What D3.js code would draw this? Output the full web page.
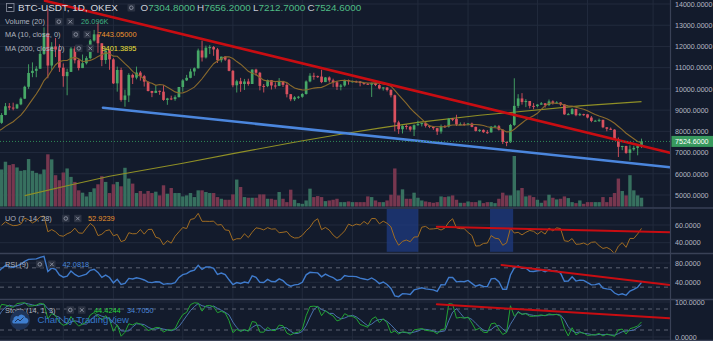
<!DOCTYPE html>
<html><head><meta charset="utf-8">
<script src="https://cdn.jsdelivr.net/npm/d3@7"></script>
<style>
html,body{margin:0;padding:0;background:#131b2c;overflow:hidden}
svg{display:block}
text{font-family:"Liberation Sans",Arial,sans-serif}
</style></head><body>
<svg id="c" width="713" height="341"></svg>
<script>
// ---------- DATA (daily candles, first = 2019-06-15) ----------
const startDate = "2019-06-15";
const open0 = 8400;
const close = [8770,9180,9120,9080,9270,9540,10100,10750,10850,10950,11650,12600,11100,12000,11850,11000,10600,10800,11900,11350,
10980,11210,11450,12280,12570,12150,11360,11800,11390,10260,10890,9480,9690,10660,10530,10770,10600,10340,9900,9810,
9910,9870,9480,9550,9520,9610,10090,10400,10520,10820,10970,11810,11480,11940,11970,11860,11350,11520,11380,10850,
10170,10360,10230,10350,10230,10910,10760,10140,10130,10410,10160,10140,10370,10190,9750,9510,9600,9630,9760,10350,
10620,10600,10580,10320,10540,10400,10310,10100,10160,10410,10360,10360,10350,10280,10240,10200,10270,10180,10020,10070,
9950,9700,8420,8100,8250,8220,8080,8290,8340,8390,8260,8210,8150,7990,8240,8230,8590,8580,8320,8340,
8320,8370,8210,8020,8070,7960,7950,8220,8240,8080,7500,7490,8300,9200,9550,9380,9430,9200,9190,9260,
9320,9240,9410,9340,9360,9270,8800,8810,9050,8760,8810,8800,8650,8490,8500,8540,8190,8120,8080,7630,
7270,7310,6980,7150,7220,7305,7524.6];
const high = [8860,9335,9330,9350,9300,9600,10150,11160,11250,11070,11800,12900,13800,12200,12400,12100,11200,10950,11970,12000,
11400,11620,11540,12350,12780,13130,12150,11900,11840,11450,11050,11000,9960,10740,10720,11050,10840,10660,10350,9910,
10150,9920,10170,9580,9680,9700,10090,10460,10660,10950,11010,11900,12270,12040,12060,12020,11930,11520,11540,11420,
10890,10430,10520,10470,10480,10920,10950,10800,10230,10440,10420,10310,10510,10380,10280,9760,9660,9670,9800,10400,
10740,10760,10630,10900,10560,10590,10480,10380,10230,10440,10440,10390,10390,10370,10290,10280,10300,10290,10220,10080,
10080,9980,9730,8500,8280,8320,8250,8330,8500,8400,8420,8270,8220,8160,8320,8300,8630,8630,8780,8420,
8420,8390,8410,8220,8100,8090,8060,8250,8300,8300,8090,7520,8350,10500,9750,9800,9520,9430,9330,9280,
9380,9330,9500,9460,9420,9370,9280,8870,9100,9070,8870,8830,8810,8720,8540,8600,8550,8200,8180,8100,
7710,7320,7320,7340,7320,7400,7656.2];
const low = [8350,8760,9000,8990,9050,9230,9520,10000,10550,10550,10950,11600,10500,10900,11500,10800,10100,9700,10800,11200,
10870,10980,11150,11390,12230,11700,11070,11180,10900,10230,9870,9400,9160,9380,10230,10450,10390,10110,9880,9610,
9800,9720,9440,9250,9470,9440,9600,9870,10370,10500,10620,10960,11290,11430,11640,11560,11220,11250,11320,10830,
10080,9830,9860,9950,10150,10230,10620,9930,9830,10080,9970,10010,10130,10090,9600,9420,9430,9530,9580,9730,
10310,10430,10520,10270,10320,10300,10080,9950,9930,10100,10200,10300,10290,10120,10190,10190,9620,10130,9980,9920,
9880,9600,8000,7880,7900,8090,7990,7780,8260,8230,8180,8150,8070,7830,7890,8160,8180,8480,8250,8300,
8260,8280,8190,7990,7970,7930,7880,7940,8190,8040,7400,7300,7450,8250,9100,9260,9140,9080,9040,9130,
9250,9120,9190,9260,9300,9200,8780,8790,8800,8710,8720,8730,8610,8430,8470,8440,8150,8000,8060,7600,
6790,7110,6940,6620,7080,6870,7212.7];
const volumeK = [110,133,123,126,116,106,108,141,106,100,96,110,155,140,93,78,101,113,88,73,
48,41,30,43,54,66,90,73,40,66,73,60,115,83,68,40,46,38,46,40,
44,33,63,38,55,40,40,30,33,40,28,48,48,43,40,40,28,23,20,20,
36,80,58,28,26,26,26,36,36,23,23,20,43,23,13,50,20,10,8,18,
53,28,31,28,16,18,20,23,13,13,15,13,13,13,13,30,28,18,13,13,
18,35,113,33,51,23,23,41,26,18,15,13,11,13,30,28,30,33,20,11,
11,15,13,13,18,10,13,13,10,23,41,33,33,150,48,55,30,33,28,20,
11,18,35,26,21,23,30,25,13,10,18,8,13,13,13,13,28,13,28,40,
83,46,33,93,48,33,26.096];
// prior days (2019-05-18 .. 2019-06-14), off-screen, feed the indicators
const warmClose = [7262,8197,7979,7963,7680,7881,7987,8052,8673,8805,8720,8659,8319,8574,8565,8742,8208,7707,7824,7822,8043,7954,7688,8000,7927,8145,8231,8400];
const warmHigh  = [7450,8260,8100,8030,8000,7940,8140,8140,8800,8950,8820,8730,9070,8590,8625,8780,8740,8210,7900,7880,8100,8060,7950,8060,8030,8200,8300,8700];
const warmLow   = [7200,7250,7600,7830,7650,7530,7830,7960,8000,8660,8640,8500,8230,8200,8480,8550,8170,7520,7630,7630,7790,7870,7600,7660,7840,7860,8060,8200];
// MA(200): [day offset, value]
const ma200Day = [6,17,28,47,60,77,88,98,108,124,132,150,166];
const ma200Val = [4970,5440,5880,6500,6950,7520,7860,8150,8420,8760,8890,9200,9401.39];
// drawn trend lines: [day offset, value]
const redPrice  = [[11.26,14151],[173.39,6993]];
const bluePrice = [[26.3,9113],[173.39,6304]];
const redUO     = [[112.9,58.1],[173.39,51.8]];
const redRSI    = [[129.7,75.9],[173.39,34.4]];
const redStoch  = [[112.9,93.4],[173.39,53.4]];
const uoShade   = [[99.9,108.1],[126.7,132.7]];
// ticks / grid
const priceTicks = [5000,6000,7000,8000,9000,10000,11000,12000,13000,14000];
const uoTicks = [40,60], rsiTicks = [40,80], stochTicks = [0,100];
const gridDays = [16,29,47,60,78,91,108,121,139,152,169];
const lastPrice = 7524.6;
const legendTitle = "BTC-USDT, 1D, OKEX";
const ohlcLabels = [["O","7304.8000"],["H","7656.2000"],["L","7212.7000"],["C","7524.6000"]];
const legendRows = [["Volume (20)","26.096K","#3fae80"],["MA (10, close, 0)","7443.05000","#f0962e"],["MA (200, close, 0)","9401.3895","#eee23a"]];

// ---------- LAYOUT ----------
const svg = d3.select("#c");
const W = 713, H = 341, plotR = 670.5;
const BG = "#131b2c", GRID = "#222b3d", SEP = "#394156";
const UP = "#46a867", DN = "#d9515f", VUP = "#37705f", VDN = "#77374f";
svg.append("rect").attr("width",W).attr("height",H).attr("fill",BG);

const x = d3.scaleLinear().domain([0,173.39]).range([1.6,670]);
const yP = d3.scaleLinear().domain([5000,14000]).range([195,4]);
const yV = d3.scaleLinear().domain([0,150]).range([206.5,156]);
const yU = d3.scaleLinear().domain([40,60]).range([242.7,225]);
const yR = d3.scaleLinear().domain([40,80]).range([282.3,263]);
const yS = d3.scaleLinear().domain([0,100]).range([337,302]);

const panels = [
  {id:"pm", y0:0, y1:207.5},
  {id:"pu", y0:208.8, y1:252.8},
  {id:"pr", y0:254.2, y1:298.8},
  {id:"ps", y0:300.2, y1:341}
];
const defs = svg.append("defs");
panels.forEach(p=>{
  defs.append("clipPath").attr("id",p.id).append("rect")
    .attr("x",0).attr("y",p.y0).attr("width",plotR).attr("height",p.y1-p.y0);
});

// vertical grid
const g0 = svg.append("g");
panels.forEach(p=>{
  g0.append("g").selectAll("line").data(gridDays).join("line")
    .attr("x1",d=>x(d)).attr("x2",d=>x(d)).attr("y1",p.y0).attr("y2",p.y1)
    .attr("stroke",GRID).attr("stroke-width",1);
});
// horizontal grid
function hgrid(scale, vals, p){
  g0.append("g").selectAll("line").data(vals).join("line")
    .attr("x1",0).attr("x2",plotR).attr("y1",d=>scale(d)).attr("y2",d=>scale(d))
    .attr("stroke",GRID).attr("stroke-width",1);
}
hgrid(yP, priceTicks); hgrid(yU, uoTicks); hgrid(yR, rsiTicks); hgrid(yS, stochTicks);
// dashed bands
function dashed(scale, vals){
  g0.append("g").selectAll("line").data(vals).join("line")
    .attr("x1",0).attr("x2",plotR).attr("y1",d=>scale(d)).attr("y2",d=>scale(d))
    .attr("stroke","#5d6373").attr("stroke-width",1).attr("stroke-dasharray","4,4");
}
dashed(yR,[30,70]); dashed(yS,[20,80]);

// ---------- derived series ----------
const N = close.length, WN = warmClose.length;
const open = close.map((c,i)=> i===0 ? open0 : (i===N-1 ? 7304.8 : close[i-1]));
const C = warmClose.concat(close), Hh = warmHigh.concat(high), Ll = warmLow.concat(low);
const M = C.length;
const dayOf = j => j - WN;
// MA10
const ma10 = C.map((c,j)=> j<9 ? null : d3.mean(C.slice(j-9,j+1)));
// RSI 9
const rsi = new Array(M).fill(null);
{ let up=0, dn=0;
  for(let j=1;j<M;j++){
    const ch=C[j]-C[j-1], u=Math.max(ch,0), d=Math.max(-ch,0);
    if(j<=9){ up+=u/9; dn+=d/9; if(j===9) rsi[j]=100-100/(1+up/dn); }
    else { up=(up*8+u)/9; dn=(dn*8+d)/9; rsi[j]=dn===0?100:100-100/(1+up/dn); }
  } }
// Stoch 14,1,3
const stK = C.map((c,j)=>{ if(j<13) return null;
  const hh=d3.max(Hh.slice(j-13,j+1)), ll=d3.min(Ll.slice(j-13,j+1)); return 100*(c-ll)/(hh-ll); });
const stD = stK.map((k,j)=> (j<15) ? null : (stK[j]+stK[j-1]+stK[j-2])/3);
// UO 7,14,28
const bp = C.map((c,j)=> j===0?0 : c - Math.min(Ll[j],C[j-1]));
const tr = C.map((c,j)=> j===0?1 : Math.max(Hh[j],C[j-1]) - Math.min(Ll[j],C[j-1]));
const uo = C.map((c,j)=>{ if(j<28) return null;
  const a=n=>d3.sum(bp.slice(j-n+1,j+1))/d3.sum(tr.slice(j-n+1,j+1));
  return 100*(4*a(7)+2*a(14)+a(28))/7; });

// ---------- MAIN PANEL ----------
const gm = svg.append("g").attr("clip-path","url(#pm)");
const idx = d3.range(N);
// volume
gm.append("g").selectAll("rect").data(idx).join("rect")
  .attr("x",i=>x(i)-1.7).attr("width",3.4)
  .attr("y",i=>yV(volumeK[i])).attr("height",i=>yV(0)-yV(volumeK[i]))
  .attr("fill",i=> close[i]>=open[i]?VUP:VDN);
// MA200
gm.append("path").datum(ma200Day.map((d,k)=>[d,ma200Val[k]]))
  .attr("d",d3.line().x(d=>x(d[0])).y(d=>yP(d[1]))).attr("fill","none")
  .attr("stroke","#8f8f26").attr("stroke-width",1.1);
// candles
const cg = gm.append("g");
cg.selectAll("line").data(idx).join("line")
  .attr("x1",i=>x(i)).attr("x2",i=>x(i)).attr("y1",i=>yP(high[i])).attr("y2",i=>yP(low[i]))
  .attr("stroke",i=> close[i]>=open[i]?UP:DN).attr("stroke-width",0.9);
cg.selectAll("rect").data(idx).join("rect")
  .attr("x",i=>x(i)-1.35).attr("width",2.7)
  .attr("y",i=>yP(Math.max(open[i],close[i])))
  .attr("height",i=>Math.max(1,Math.abs(yP(open[i])-yP(close[i]))))
  .attr("fill",i=> close[i]>=open[i]?UP:DN);
// MA10
const vis = d3.range(WN-1,M);
gm.append("path").datum(vis)
  .attr("d",d3.line().x(j=>x(dayOf(j))).y(j=>yP(ma10[j]))).attr("fill","none")
  .attr("stroke","#8a6a2c").attr("stroke-width",1.1);
// trend lines
const tl = (g,data,ys,col,w)=> g.append("path").datum(data)
  .attr("d",d3.line().x(d=>x(d[0])).y(d=>ys(d[1]))).attr("fill","none")
  .attr("stroke",col).attr("stroke-width",w).attr("stroke-linecap","round");
tl(gm,redPrice,yP,"#c80d12",2.6);
tl(gm,bluePrice,yP,"#4b86dd",2.6);
// last price dotted line
gm.append("line").attr("x1",0).attr("x2",plotR).attr("y1",yP(lastPrice)).attr("y2",yP(lastPrice))
  .attr("stroke","#2f8a57").attr("stroke-width",1).attr("stroke-dasharray","1,2");

// ---------- UO ----------
const gu = svg.append("g").attr("clip-path","url(#pu)");
gu.selectAll("rect").data(uoShade).join("rect")
  .attr("x",d=>x(d[0])).attr("width",d=>x(d[1])-x(d[0]))
  .attr("y",208.8).attr("height",43)
  .attr("fill","#1f3b80").attr("fill-opacity",0.75);
gu.append("path").datum(vis.filter(j=>uo[j]!=null))
  .attr("d",d3.line().x(j=>x(dayOf(j))).y(j=>yU(uo[j]))).attr("fill","none")
  .attr("stroke","#a06c22").attr("stroke-width",1);
tl(gu,redUO,yU,"#c80d12",2);

// ---------- RSI ----------
const gr = svg.append("g").attr("clip-path","url(#pr)");
gr.append("path").datum(vis)
  .attr("d",d3.line().x(j=>x(dayOf(j))).y(j=>yR(rsi[j]))).attr("fill","none")
  .attr("stroke","#3f7bcc").attr("stroke-width",1.4);
tl(gr,redRSI,yR,"#c80d12",2);

// ---------- STOCH ----------
const gs = svg.append("g").attr("clip-path","url(#ps)");
gs.append("path").datum(vis)
  .attr("d",d3.line().x(j=>x(dayOf(j))).y(j=>yS(stD[j]))).attr("fill","none")
  .attr("stroke","#4a72ad").attr("stroke-width",1);
gs.append("path").datum(vis)
  .attr("d",d3.line().x(j=>x(dayOf(j))).y(j=>yS(stK[j]))).attr("fill","none")
  .attr("stroke","#23a335").attr("stroke-width",1);
tl(gs,redStoch,yS,"#c80d12",2);

// ---------- separators ----------
[208,253.5,299.5,340.3].forEach(yy=>svg.append("line").attr("x1",0).attr("x2",W)
  .attr("y1",yy).attr("y2",yy).attr("stroke",SEP).attr("stroke-width",1.3));
svg.append("line").attr("x1",plotR).attr("x2",plotR).attr("y1",0).attr("y2",H)
  .attr("stroke",SEP).attr("stroke-width",1.2);

// ---------- right axes ----------
function rax(scale, vals){
  const a = svg.append("g").attr("transform",`translate(${plotR},0)`)
    .call(d3.axisRight(scale).tickValues(vals).tickFormat(d3.format(".4f")).tickSize(0).tickPadding(4.5));
  a.select(".domain").remove();
  a.selectAll("text").attr("fill","#b3b8c4").style("font-size","7.1px").style("font-family","Liberation Sans, Arial, sans-serif");
}
rax(yP,priceTicks); rax(yU,uoTicks); rax(yR,rsiTicks); rax(yS,stochTicks);
// last price tag
const ly = yP(lastPrice);
svg.append("rect").attr("x",671.5).attr("y",ly-5.5).attr("width",41.5).attr("height",11).attr("fill","#389a5e");
svg.append("text").attr("x",675).attr("y",ly).attr("dy","0.34em").attr("fill","#ffffff")
  .style("font-size","7.1px").text(d3.format(".4f")(lastPrice));

// ---------- legends ----------
function iconBox(xx, yy, kind){
  const g = svg.append("g");
  g.append("rect").attr("x",xx).attr("y",yy-3.8).attr("width",7.6).attr("height",7.6).attr("fill","#2b3242").attr("rx",0.8);
  if(kind==="x"){
    g.append("path").attr("d",`M${xx+2},${yy-1.8}L${xx+5.6},${yy+1.8}M${xx+5.6},${yy-1.8}L${xx+2},${yy+1.8}`)
      .attr("stroke","#8d93a3").attr("stroke-width",0.9);
  } else {
    g.append("circle").attr("cx",xx+3.8).attr("cy",yy).attr("r",1.8).attr("fill","none").attr("stroke","#8d93a3").attr("stroke-width",0.9);
  }
}
// title row
svg.append("rect").attr("x",6.5).attr("y",3.5).attr("width",7.5).attr("height",8).attr("fill","none").attr("stroke","#8a90a0").attr("stroke-width",0.8);
svg.append("line").attr("x1",8.3).attr("x2",12.2).attr("y1",7.5).attr("y2",7.5).attr("stroke","#c5c9d3").attr("stroke-width",0.9);
svg.append("text").attr("x",18).attr("y",7.7).attr("dy","0.35em").attr("fill","#d3d6de")
  .style("font-size","9.9px").text(legendTitle);
iconBox(127.5,7.7,"g");
const ohlcX = [140.5,197,253,307.5];
ohlcLabels.forEach((d,k)=>{
  const t = svg.append("text").attr("x",ohlcX[k]).attr("y",7.7).attr("dy","0.35em").style("font-size","9.9px");
  t.append("tspan").attr("fill","#c8ccd6").text(d[0]);
  t.append("tspan").attr("fill","#4fbb85").text(d[1]);
});
// indicator rows in main
const rowY = [21.7,34.5,48.3], icoX = [[55,66.5],[72,83.5],[75,86.5]], valX=[81,97.5,101.5];
legendRows.forEach((r,k)=>{
  svg.append("text").attr("x",5).attr("y",rowY[k]).attr("dy","0.35em").attr("fill","#aeb3bf").style("font-size","7.4px").text(r[0]);
  iconBox(icoX[k][0],rowY[k],"g"); iconBox(icoX[k][1],rowY[k],"x");
  svg.append("text").attr("x",valX[k]).attr("y",rowY[k]).attr("dy","0.35em").attr("fill",r[2]).style("font-size","7.4px").text(r[1]);
});
// indicator panel legends
const panelLeg = [
  {y:218.5, name:"UO (7, 14, 28)", ic:[62,74], vals:[["52.9239","#e8912c",88]]},
  {y:264.3, name:"RSI (9)", ic:[36,48], vals:[["42.0818","#4a87da",62.5]]},
  {y:310, name:"Stoch (14, 1, 3)", ic:[66.5,78], vals:[["44.4244","#27d93c",94],["34.7050","#4a87da",127]]}
];
panelLeg.forEach(p=>{
  svg.append("text").attr("x",5).attr("y",p.y).attr("dy","0.35em").attr("fill","#aeb3bf").style("font-size","7.4px").text(p.name);
  iconBox(p.ic[0],p.y,"g"); iconBox(p.ic[1],p.y,"x");
  p.vals.forEach(v=> svg.append("text").attr("x",v[2]).attr("y",p.y).attr("dy","0.35em").attr("fill",v[1]).style("font-size","7.4px").text(v[0]));
});
// watermark
svg.append("circle").attr("cx",20).attr("cy",320).attr("r",10).attr("fill","#1f3458");
svg.append("path").attr("d","M13.5,323.5 h13 a3,3 0 0 0 -1,-5.8 a4,4 0 0 0 -7.3,-1.2 a3.2,3.2 0 0 0 -4.7,3.3 a2,2 0 0 0 0,3.7z")
  .attr("fill","#3f7fd0");
svg.append("path").attr("d","M15,322 l3,-3 l2,2 l3.5,-3.5").attr("fill","none").attr("stroke","#1f3458").attr("stroke-width",1);
svg.append("text").attr("x",37.5).attr("y",320).attr("dy","0.35em").attr("fill","#3576c7").style("font-size","9.6px").text("Chart by TradingView");
</script>
</body></html>
